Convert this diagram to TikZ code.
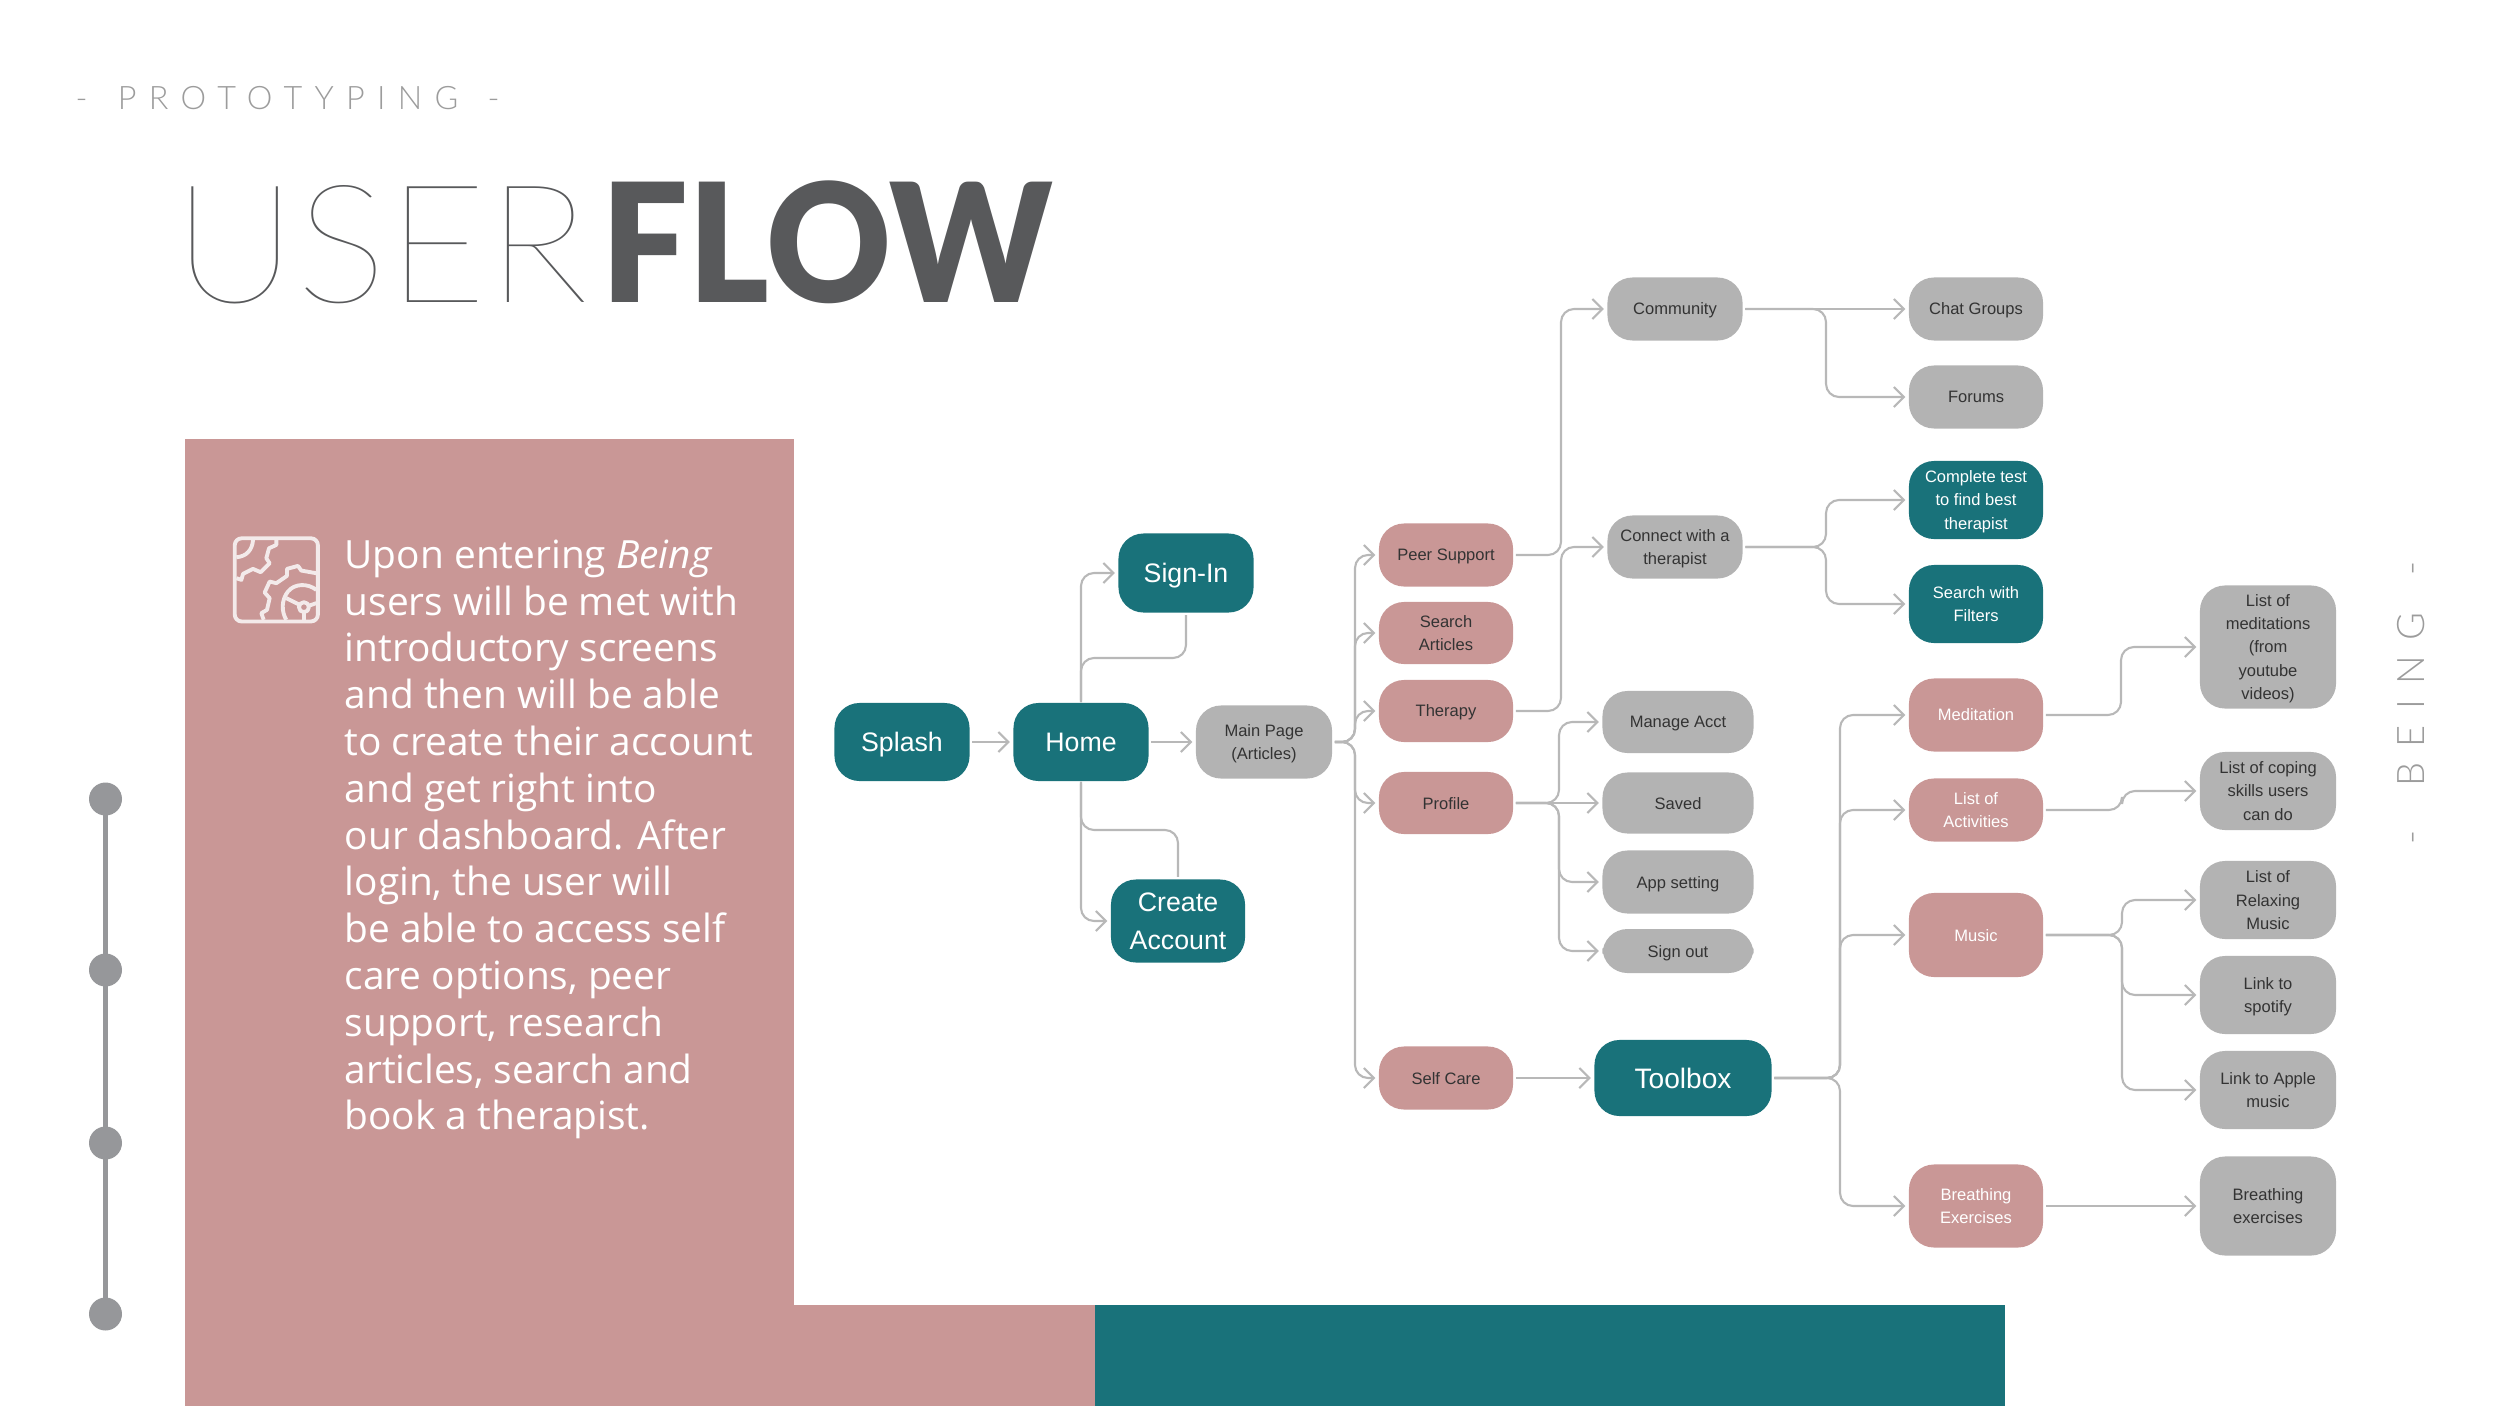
\documentclass[tikz,border=0pt]{standalone}
\usepackage{fontspec}
\setmainfont{Liberation Sans}
\newfontfamily\bodyfont{Open Sans}
\newfontfamily\lightfont{Lato}[UprightFont=* Light]
\newfontfamily\thinfont{Lato}[UprightFont=* Thin,FakeStretch=1.035]
\newfontfamily\blackfont{Lato}[UprightFont=* Black,FakeStretch=.93]
\usetikzlibrary{arrows.meta,positioning}
\definecolor{rosefill}{HTML}{C99796}
\definecolor{tealfill}{HTML}{19727A}
\definecolor{greyfill}{HTML}{B3B3B3}
\definecolor{linegrey}{HTML}{B8B8B8}
\definecolor{dotgrey}{HTML}{96979A}
\definecolor{headgrey}{HTML}{58595B}
\definecolor{thingrey}{HTML}{9C9C9C}
\definecolor{iconline}{HTML}{F3EAEA}
\definecolor{inkdark}{HTML}{333333}
\tikzset{
  flowbox/.style={rounded corners=.25cm,inner sep=0pt,align=center,text depth=-.7pt,font=\fontsize{4.7}{6.6}\selectfont},
  boxsize/.style 2 args={minimum width=#1cm,minimum height=#2cm},
  greybox/.style={flowbox,fill=greyfill,text=inkdark},
  rosebox/.style={flowbox,fill=rosefill,text=inkdark},
  rosewhite/.style={flowbox,fill=rosefill,text=white},
  tealbox/.style={flowbox,fill=tealfill,text=white},
  bigtext/.style={text depth=-1.2pt,font=\fontsize{7.6}{11}\selectfont},
  flowline/.style={draw=linegrey,line width=.6pt,rounded corners=.13cm,shorten <=2*.2845pt},
  flowarrow/.style={flowline,-{Straight Barb[length=1mm,width=2mm,line width=.6pt]},shorten >=3*.2845pt},
  iconstroke/.style={draw=iconline,line width=1.1pt,line join=round}
}
\begin{document}
\begin{tikzpicture}[x=.01cm,y=-.01cm]
\useasboundingbox (0,0) rectangle (2500,1406);
\fill[rosefill] (185,439) rectangle (794,1406);
\fill[rosefill] (794,1305) rectangle (1095,1406);
\fill[tealfill] (1095,1305) rectangle (2005,1406);

\node[anchor=base west,inner sep=0pt,text=thingrey] (prototyping) at (75,109)
  {\lightfont\addfontfeature{LetterSpace=38}\fontsize{9.2}{10}\selectfont -\hspace{8.6pt}PROTOTYPING\hspace{8.3pt}-};
\node[anchor=base west,inner sep=0pt,text=headgrey] (userword) at (173,302)
  {\thinfont\fontsize{47}{50}\selectfont USER};
\node[anchor=base west,inner sep=0pt,text=headgrey] (flowword) at (601,302)
  {\blackfont\fontsize{47}{50}\selectfont FLOW};
\node[anchor=base,rotate=90,inner sep=0pt,text=thingrey] (being) at (2424,703)
  {\lightfont\addfontfeature{LetterSpace=40}\fontsize{10.8}{12}\selectfont -\hspace{12.6pt}BEING\hspace{10.7pt}-};

\draw[dotgrey,line width=1.6pt] (105.5,799)--(105.5,1314);
\foreach \y in {799,970,1143,1314} \fill[dotgrey] (105.5,\y) circle (16.5);

\begin{scope}[shift={(60,500)},x=.00333cm,y=-.00333cm]
\draw[iconstroke,rounded corners=.07cm] (525,115) rectangle (775,365);
\draw[iconstroke] (580,120) .. controls (578,150) and (560,170) .. (530,172);
\draw[iconstroke] (650,118)--(650,135)--(628,145)--(620,175)--(630,190)--(603,217)--(580,207)--(550,222)--(545,240)--(530,235);
\draw[iconstroke] (770,220)--(725,212)--(715,198)--(682,207)--(682,228)--(650,250)--(630,245)--(615,278)--(630,295)--(622,330)--(605,340)--(612,360);
\draw[iconstroke] (770,270) .. controls (745,250) and (705,250) .. (685,275) .. controls (665,300) and (665,335) .. (680,360);
\draw[iconstroke] (733,322) circle (15);
\draw[iconstroke] (680,295)--(720,315) (770,310)--(747,318) (733,337)--(733,360);
\end{scope}

\node[anchor=north west,inner sep=0pt,align=left,text=white,font=\bodyfont\fontsize{11.05}{13.31}\selectfont] (story) at (344,539)
  {Upon entering \textit{Being}\\users will be met with\\introductory screens\\and then will be able\\to create their account\\and get right into\\our dashboard. After\\login, the user will\\be able to access self\\care options, peer\\support, research\\articles, search and\\book a therapist.};

\node[tealbox,bigtext,boxsize={1.35}{.78}] (splash) at (902,742) {Splash};
\node[tealbox,bigtext,boxsize={1.35}{.78}] (home) at (1081,742) {Home};
\node[tealbox,bigtext,boxsize={1.35}{.79}] (signin) at (1186,573) {Sign-In};
\node[tealbox,bigtext,boxsize={1.34}{.83}] (createacct) at (1178,921) {Create\\Account};
\node[greybox,boxsize={1.36}{.73}] (mainpage) at (1264,742) {Main Page\\(Articles)};
\node[rosebox,boxsize={1.34}{.63}] (peer) at (1446,555) {Peer Support};
\node[rosebox,boxsize={1.34}{.62}] (searchart) at (1446,633) {Search\\Articles};
\node[rosebox,boxsize={1.34}{.62}] (therapy) at (1446,711) {Therapy};
\node[rosebox,boxsize={1.34}{.62}] (profile) at (1446,803) {Profile};
\node[rosebox,boxsize={1.34}{.63}] (selfcare) at (1446,1078) {Self Care};
\node[tealbox,bigtext,boxsize={1.77}{.76},font=\fontsize{8}{10}\selectfont] (toolbox) at (1683,1078) {Toolbox};
\node[greybox,boxsize={1.35}{.63}] (community) at (1675,309) {Community};
\node[greybox,boxsize={1.35}{.63}] (connect) at (1675,547) {Connect with a\\therapist};
\node[greybox,boxsize={1.34}{.63}] (chat) at (1976,309) {Chat Groups};
\node[greybox,boxsize={1.34}{.63}] (forums) at (1976,397) {Forums};
\node[tealbox,boxsize={1.34}{.78}] (complete) at (1976,500) {Complete test\\to find best\\therapist};
\node[tealbox,boxsize={1.34}{.78}] (filters) at (1976,604) {Search with\\Filters};
\node[greybox,boxsize={1.51}{.62}] (manage) at (1678,722) {Manage Acct};
\node[greybox,boxsize={1.51}{.61}] (saved) at (1678,803) {Saved};
\node[greybox,boxsize={1.51}{.63}] (appset) at (1678,882) {App setting};
\node[greybox,boxsize={1.51}{.44}] (signout) at (1678,951) {Sign out};
\node[rosewhite,boxsize={1.34}{.73}] (meditation) at (1976,715) {Meditation};
\node[rosewhite,boxsize={1.34}{.63}] (activities) at (1976,810) {List of\\Activities};
\node[rosewhite,boxsize={1.34}{.84}] (music) at (1976,935) {Music};
\node[rosewhite,boxsize={1.34}{.83}] (breathing) at (1976,1206) {Breathing\\Exercises};
\node[greybox,boxsize={1.36}{1.23}] (meditlist) at (2268,647) {List of\\meditations\\(from\\youtube\\videos)};
\node[greybox,boxsize={1.36}{.78}] (coping) at (2268,791) {List of coping\\skills users\\can do};
\node[greybox,boxsize={1.36}{.78}] (relaxing) at (2268,900) {List of\\Relaxing\\Music};
\node[greybox,boxsize={1.36}{.78}] (spotify) at (2268,995) {Link to\\spotify};
\node[greybox,boxsize={1.36}{.78}] (apple) at (2268,1090) {Link to Apple\\music};
\node[greybox,boxsize={1.36}{.99}] (breathex) at (2268,1206) {Breathing\\exercises};

\coordinate (signinturn) at (1186,658);
\coordinate (createturn) at (1178,830);
\coordinate (mainbus) at (1355,742);
\coordinate (peerbus) at (1561,555);
\coordinate (therapybus) at (1561,711);
\coordinate (profilebus) at (1559,803);
\coordinate (communitybus) at (1826,309);
\coordinate (connectbus) at (1826,547);
\coordinate (toolbus) at (1840,1078);
\coordinate (meditbus) at (2121,715);
\coordinate (activbus) at (2122,810);
\coordinate (musicbus) at (2122,935);

\foreach \from/\dest in {splash/home,home/mainpage,selfcare/toolbox,profile/saved,community/chat,breathing/breathex}
  \draw[flowarrow] (\from)--(\dest);
\draw[flowarrow] (home)|-(signin);
\draw[flowarrow] (home)|-(createacct);
\draw[flowline] (signin)--(signinturn)-|(home);
\draw[flowline] (createacct)--(createturn)-|(home);
\foreach \dest in {peer,searchart,therapy,profile,selfcare}
  \draw[flowarrow] (mainpage)--(mainbus)|-(\dest);
\draw[flowarrow] (peer)--(peerbus)|-(community);
\draw[flowarrow] (therapy)--(therapybus)|-(connect);
\foreach \dest in {manage,appset,signout}
  \draw[flowarrow] (profile)--(profilebus)|-(\dest);
\draw[flowarrow] (community)--(communitybus)|-(forums);
\foreach \dest in {complete,filters}
  \draw[flowarrow] (connect)--(connectbus)|-(\dest);
\foreach \dest in {meditation,activities,music,breathing}
  \draw[flowarrow] (toolbox)--(toolbus)|-(\dest);
\draw[flowarrow] (meditation)--(meditbus)|-(meditlist);
\draw[flowarrow] (activities)--(activbus)|-(coping);
\foreach \dest in {relaxing,spotify,apple}
  \draw[flowarrow] (music)--(musicbus)|-(\dest);
\end{tikzpicture}
\end{document}
